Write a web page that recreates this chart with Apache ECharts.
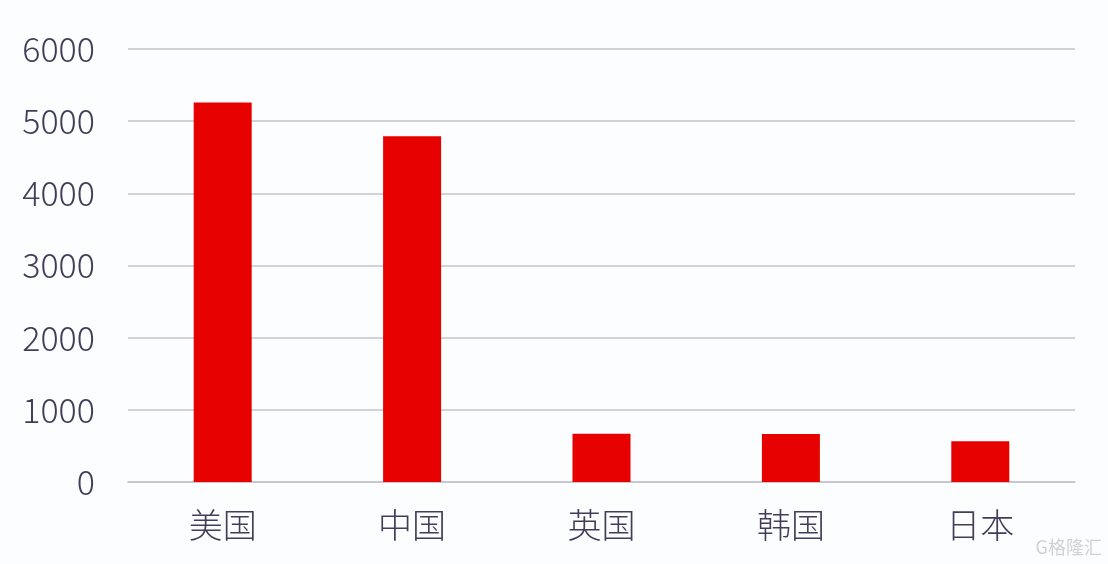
<!DOCTYPE html>
<html>
<head>
<meta charset="utf-8">
<script src="https://cdn.jsdelivr.net/npm/echarts@6/dist/echarts.min.js"></script>
<style>
html,body{margin:0;padding:0;background:#fcfdff;}
#c{width:1108px;height:564px;}
</style>
</head>
<body>
<div id="c"></div>
<script>
const categories = ['美国', '中国', '英国', '韩国', '日本'];
const values = [5260, 4790, 670, 665, 565];
const yTicks = [0, 1000, 2000, 3000, 4000, 5000, 6000];

const chart = echarts.init(document.getElementById('c'));
const textColor = '#433c58';
chart.setOption({
  backgroundColor: '#fcfdff',
  animation: false,
  grid: {left: 128, right: 33, top: 49, bottom: 82},
  xAxis: {
    type: 'category',
    data: categories,
    axisTick: {show: false},
    axisLine: {show: true, lineStyle: {color: '#c4c4cc', width: 1.5}},
    axisLabel: {color: textColor, fontSize: 34, fontWeight: 300, fontFamily: 'Noto Sans CJK SC', margin: 26}
  },
  yAxis: {
    type: 'value',
    min: yTicks[0],
    max: yTicks[yTicks.length - 1],
    interval: 1000,
    axisLine: {show: false},
    axisTick: {show: false},
    splitLine: {lineStyle: {color: '#c4c4cc', width: 1.5}},
    axisLabel: {color: textColor, fontSize: 34, fontWeight: 300, fontFamily: 'Noto Sans CJK SC', margin: 33, formatter: v => String(v)}
  },
  series: [{
    type: 'bar',
    data: values,
    barWidth: 58,
    itemStyle: {color: '#e60000'}
  }],
  graphic: [{
    type: 'text',
    right: 6,
    bottom: 8,
    style: {text: 'G格隆汇', fill: '#d0d2d8', fontSize: 18, fontFamily: 'Noto Sans CJK SC'}
  }]
});
</script>
</body>
</html>
